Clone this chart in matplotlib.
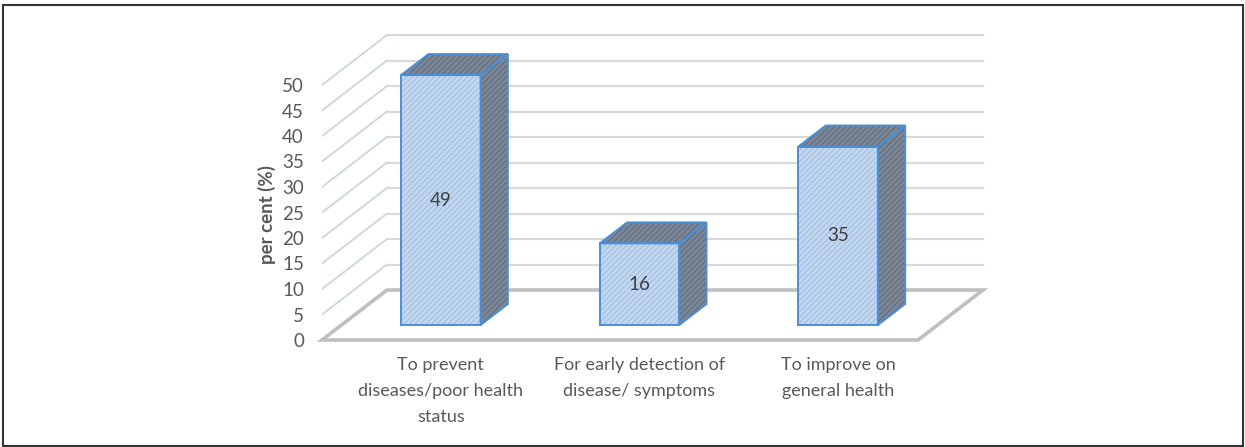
import matplotlib
matplotlib.use("Agg")
import matplotlib.pyplot as plt
from matplotlib.patches import Polygon, Rectangle

plt.rcParams["font.family"] = ["Lato", "DejaVu Sans"]
plt.rcParams["hatch.linewidth"] = 0.7

# data
categories = ["To prevent\ndiseases/poor health\nstatus",
              "For early detection of\ndisease/ symptoms",
              "To improve on\ngeneral health"]
values = [49, 16, 35]
yticks = list(range(0, 55, 5))
ylabel = "per cent (%)"

# pseudo-3D geometry (category units, value units)
DX, DY = 0.327, 9.8      # full floor depth offset
D0, D1 = 0.30, 0.72      # bar front / back depth
BW = 0.40                # bar width

text_col = "#595959"
front_col, front_hatch = "#c3d7ef", "#9dbbe2"
side_col, side_hatch = "#7b8696", "#5e6979"
edge_col = "#4a8fd6"

W, H = 1245, 447
fig = plt.figure(figsize=(W / 100, H / 100), dpi=100)
ax = fig.add_axes([322 / W, (H - 340) / H, (985 - 322) / W, 306 / H])
ax.set_xlim(-0.5, -0.5 + 663 / 198.67)
ax.set_ylim(0, 60)
for s in ax.spines.values():
    s.set_visible(False)
ax.set_xticks([])
ax.set_yticks(yticks)
ax.tick_params(axis="y", length=0, pad=13, labelsize=13.5, labelcolor=text_col)
ax.set_ylabel(ylabel, fontsize=13.5, fontweight="bold", color=text_col)
ax.yaxis.set_label_coords(-0.069, 0.41)

# back wall and side wall grid
for v in yticks:
    if v > 0:
        ax.plot([-0.5 + DX, 2.5 + DX], [v + DY, v + DY], color="#d9d9d9", lw=1.6, zorder=1)
        ax.plot([-0.5, -0.5 + DX], [v, v + DY], color="#cdd9e1", lw=1.4, zorder=1)

# floor
floor = Polygon([(-0.5, 0), (2.5, 0), (2.5 + DX, DY), (-0.5 + DX, DY)], closed=True,
                fill=False, edgecolor="#bfbfbf", lw=2.6, zorder=2, clip_on=False)
ax.add_patch(floor)


def face(pts, fc, hc):
    ax.add_patch(Polygon(pts, closed=True, facecolor=fc, edgecolor="none", zorder=3))
    ax.add_patch(Polygon(pts, closed=True, facecolor="none", edgecolor=hc, lw=0,
                         hatch="//////", zorder=3))
    ax.add_patch(Polygon(pts, closed=True, fill=False, edgecolor=edge_col, lw=1.4,
                         zorder=4, joinstyle="miter"))


ddx, ddy = (D1 - D0) * DX, (D1 - D0) * DY
for i, v in enumerate(values):
    x0 = i - BW / 2 + D0 * DX
    y0 = D0 * DY
    x1 = x0 + BW
    top = y0 + v
    face([(x0, top), (x1, top), (x1 + ddx, top + ddy), (x0 + ddx, top + ddy)], side_col, side_hatch)
    face([(x1, y0), (x1 + ddx, y0 + ddy), (x1 + ddx, top + ddy), (x1, top)], side_col, side_hatch)
    face([(x0, y0), (x1, y0), (x1, top), (x0, top)], front_col, front_hatch)
    ax.text(i + D0 * DX, y0 + v / 2, str(v), ha="center", va="center",
            fontsize=13.5, color="#404040", zorder=5)
    ax.text(i + D0 * DX, -3.3, categories[i], ha="center", va="top",
            fontsize=13, color=text_col, linespacing=1.76, clip_on=False)

# outer frame
fig.patches.append(Rectangle((3 / W, 1 / H), 1240 / W, 441 / H, transform=fig.transFigure,
                             fill=False, edgecolor="#333333", lw=1.5))

fig.savefig("out.png", dpi=100)
